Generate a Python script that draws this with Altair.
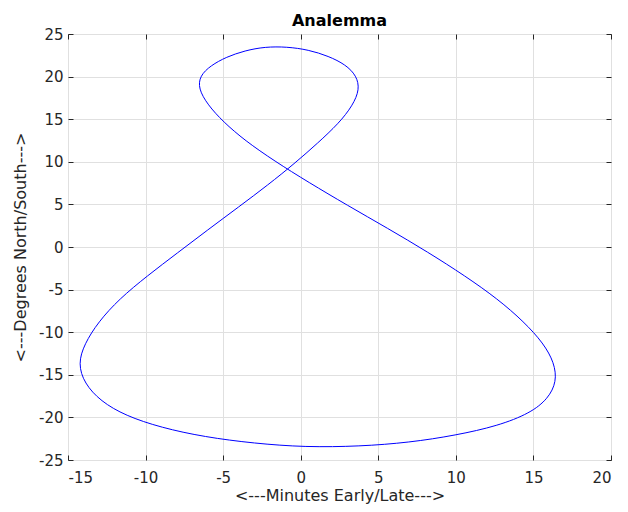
import altair as alt
import pandas as pd

# Equation of time (minutes) and declination (degrees), read weekly along the curve
minutes = [-3.0, -6.2, -9.0, -11.3, -12.9, -13.95, -14.35, -13.95, -13.05, -11.7,
           -9.9, -7.95, -6.0, -4.0, -2.1, -0.4, 1.1, 2.45, 3.35, 3.8,
           3.6, 2.9, 1.8, 0.5, -0.9, -2.3, -3.6, -4.8, -5.8, -6.5,
           -6.6, -6.0, -5.0, -3.6, -1.7, 0.5, 3.0, 5.6, 8.2, 10.6,
           12.7, 14.4, 15.65, 16.35, 16.5, 15.95, 14.8, 12.7, 10.0, 7.0,
           3.8, 0.3]
degrees = [-23.05, -22.3, -21.2, -19.8, -18.1, -16.0, -13.7, -11.4, -8.8, -6.1,
           -3.4, -0.7, 2.0, 4.7, 7.3, 9.8, 12.2, 14.5, 16.6, 18.5,
           20.1, 21.4, 22.4, 23.15, 23.5, 23.5, 23.05, 22.3, 21.3, 20.1,
           18.6, 16.7, 14.7, 12.5, 10.1, 7.6, 4.9, 2.2, -0.6, -3.4,
           -6.1, -8.8, -11.3, -13.6, -15.8, -17.8, -19.5, -21.0, -22.1, -22.95,
           -23.4, -23.5]

x_ticks = [-15, -10, -5, 0, 5, 10, 15, 20]
y_ticks = [-25, -20, -15, -10, -5, 0, 5, 10, 15, 20, 25]

df = pd.DataFrame({"idx": list(range(len(minutes))), "minutes": minutes, "degrees": degrees})

FONT = "DejaVu Sans"
TXT = "#262626"
LABEL = "'' + datum.value"
xscale = alt.Scale(domain=[-15, 20], nice=False, zero=False)
yscale = alt.Scale(domain=[-25, 25], nice=False, zero=False)

base = alt.Chart(df)

main = base.mark_line(color="#0000ff", strokeWidth=1, interpolate="basis-closed").encode(
    x=alt.X("minutes:Q", scale=xscale,
            axis=alt.Axis(values=x_ticks, orient="bottom", title="<---Minutes Early/Late--->",
                          grid=True, gridColor="#e0e0e0", ticks=False, domain=False,
                          tickSize=0, labelPadding=10, labelFont=FONT, labelFontSize=15,
                          labelColor=TXT, labelExpr=LABEL, titleFont=FONT, titleFontSize=16,
                          titleColor=TXT, titleFontWeight="normal",
                          titleBaseline="alphabetic", titleY=40)),
    y=alt.Y("degrees:Q", scale=yscale,
            axis=alt.Axis(values=y_ticks, orient="left", title="<---Degrees North/South--->",
                          grid=True, gridColor="#e0e0e0", ticks=False, domain=False,
                          tickSize=0, labelPadding=5, labelFont=FONT, labelFontSize=15,
                          labelColor=TXT, labelExpr=LABEL, titleFont=FONT, titleFontSize=16,
                          titleColor=TXT, titleFontWeight="normal",
                          titleBaseline="alphabetic", titleX=-43, titleY=213)),
    order="idx:Q",
)

ticks_bl = base.mark_line(opacity=0).encode(
    x=alt.X("minutes:Q", scale=xscale,
            axis=alt.Axis(values=x_ticks, orient="bottom", offset=-5, tickSize=5, labels=False,
                          domain=False, grid=False, title=None, tickColor=TXT)),
    y=alt.Y("degrees:Q", scale=yscale,
            axis=alt.Axis(values=y_ticks, orient="left", offset=-5, tickSize=5, labels=False,
                          domain=False, grid=False, title=None, tickColor=TXT)),
    order="idx:Q",
)

ticks_tr = base.mark_line(opacity=0).encode(
    x=alt.X("minutes:Q", scale=xscale,
            axis=alt.Axis(values=x_ticks, orient="top", offset=-5, tickSize=5, labels=False,
                          domain=False, grid=False, title=None, tickColor=TXT)),
    y=alt.Y("degrees:Q", scale=yscale,
            axis=alt.Axis(values=y_ticks, orient="right", offset=-5, tickSize=5, labels=False,
                          domain=False, grid=False, title=None, tickColor=TXT)),
    order="idx:Q",
)

chart = alt.layer(main, ticks_bl, ticks_tr).resolve_axis(
    x="independent", y="independent"
).properties(
    width=543,
    height=426,
    title=alt.TitleParams(text="Analemma", font=FONT, fontSize=16, fontWeight="bold",
                          color="#000000", anchor="middle", frame="group",
                          baseline="alphabetic", offset=-15),
    autosize=alt.AutoSizeParams(type="none"),
    padding={"left": 60, "top": 26, "right": 9, "bottom": 44},
).configure_view(stroke="#262626", strokeWidth=1)

chart.save("out.html", embed_options={"renderer": "svg", "actions": False})
